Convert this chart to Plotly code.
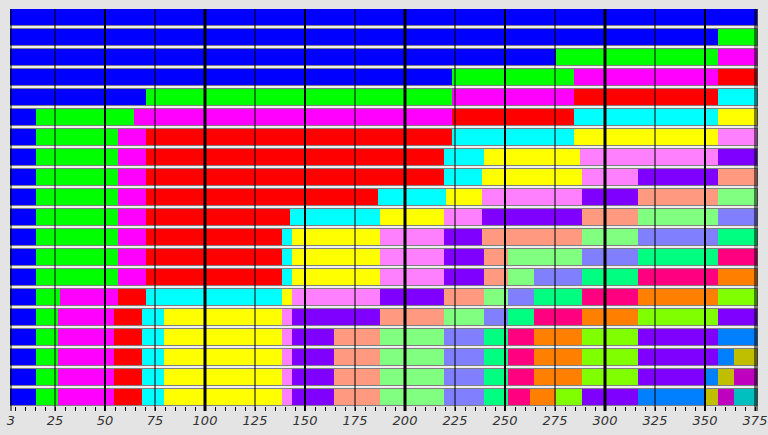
import plotly.graph_objects as go

# ---- data -------------------------------------------------------------
X_MIN, X_MAX = 3, 376

# last value of each class, one list per number of classes (row 1 = 1 class ... row 20 = 20 classes)
k01 = [376]
k02 = [356, 376]
k03 = [275, 356, 376]
k04 = [223, 284, 356, 376]
k05 = [70, 223, 284, 356, 376]
k06 = [15, 64, 223, 284, 356, 376]
k07 = [15, 56, 70, 223, 284, 356, 376]
k08 = [15, 56, 70, 219, 239, 287, 356, 376]
k09 = [15, 56, 70, 219, 238, 288, 316, 356, 376]
k10 = [15, 56, 70, 186, 220, 238, 288, 316, 356, 376]
k11 = [15, 56, 70, 142, 187, 219, 238, 288, 316, 356, 376]
k12 = [15, 56, 70, 138, 143, 187, 219, 238, 288, 316, 356, 376]
k13 = [15, 56, 70, 138, 143, 187, 219, 239, 251, 288, 316, 356, 376]
k14 = [15, 56, 70, 138, 143, 187, 219, 239, 251, 264, 288, 316, 356, 376]
k15 = [15, 27, 56, 70, 138, 143, 187, 219, 239, 251, 264, 288, 316, 356, 376]
k16 = [15, 26, 54, 68, 79, 138, 143, 187, 219, 239, 251, 264, 288, 316, 356, 376]
k17 = [15, 26, 54, 68, 79, 138, 143, 164, 187, 219, 239, 251, 264, 288, 316, 356, 376]
k18 = [15, 26, 54, 68, 79, 138, 143, 164, 187, 219, 239, 251, 264, 288, 316, 356, 364, 376]
k19 = [15, 26, 54, 68, 79, 138, 143, 164, 187, 219, 239, 251, 264, 288, 316, 349, 356, 364, 376]
k20 = [15, 26, 54, 68, 79, 138, 143, 164, 187, 219, 239, 251, 262, 275, 288, 316, 349, 356, 364, 376]
rows = [k01, k02, k03, k04, k05, k06, k07, k08, k09, k10,
        k11, k12, k13, k14, k15, k16, k17, k18, k19, k20]

class_colors = ["#0000ff", "#00ff00", "#ff00ff", "#ff0000", "#00ffff",
                "#ffff00", "#ff80ff", "#8000ff", "#ff9980", "#80ff80",
                "#8080ff", "#00ff80", "#ff0080", "#ff8000", "#80ff00",
                "#8000ff", "#0080ff", "#bfbf00", "#bf00bf", "#00bfbf"]

tick_vals = [3, 25, 50, 75, 100, 125, 150, 175, 200, 225, 250,
             275, 300, 325, 350, 375, 376]
tick_text = [str(v) for v in tick_vals]

# ---- figure -----------------------------------------------------------
fig = go.Figure()
n_classes = max(len(r) for r in rows)
for k in range(n_classes):
    ys, xs, bases = [], [], []
    for r, br in enumerate(rows, start=1):
        if len(br) > k:
            start = X_MIN if k == 0 else br[k - 1] + 1
            ys.append(r)
            bases.append(start - 0.5)
            xs.append(br[k] - start + 1)
    fig.add_trace(go.Bar(orientation="h", y=ys, x=xs, base=bases, width=0.85,
                         marker=dict(color=class_colors[k], line=dict(width=0)),
                         showlegend=False, hoverinfo="skip"))

# outline of each row
row_ids = list(range(1, len(rows) + 1))
fig.add_trace(go.Bar(orientation="h", y=row_ids,
                     x=[X_MAX - X_MIN + 1] * len(rows),
                     base=[X_MIN - 0.5] * len(rows), width=0.85,
                     marker=dict(color="rgba(0,0,0,0)",
                                 line=dict(color="#808080", width=1)),
                     showlegend=False, hoverinfo="skip"))

# vertical reference lines at the labelled ticks
for v in tick_vals:
    w = 3 if v % 100 == 0 else (2 if v % 50 == 0 else 1)
    fig.add_shape(type="line", xref="x", yref="paper", x0=v, x1=v,
                  y0=-0.0126, y1=1, line=dict(color="black", width=w),
                  layer="above")

fig.update_layout(
    width=768, height=435,
    margin=dict(l=10, r=10, t=9, b=29, autoexpand=False),
    paper_bgcolor="#e4e4e4", plot_bgcolor="#efefef",
    barmode="overlay", bargap=0,
    showlegend=False,
)
fig.update_xaxes(
    automargin=False,
    range=[X_MIN - 0.5, X_MAX + 0.5],
    tickmode="array", tickvals=tick_vals, ticktext=tick_text,
    tickangle=0, ticks="outside", ticklen=2, tickcolor="rgba(0,0,0,0)",
    tickfont=dict(family="DejaVu Sans", size=13, color="#333333", style="italic"),
    showgrid=False, zeroline=False, showline=False,
    minor=dict(ticks="outside", ticklen=4, tickwidth=1, tickcolor="black",
               tick0=0, dtick=5, showgrid=False),
)
fig.update_yaxes(
    automargin=False,
    range=[len(rows) + 0.425, 1 - 0.425],
    showticklabels=False, showgrid=False, zeroline=False, showline=False,
    ticks="",
)

fig.write_html(
    "out.html",
    config={"displayModeBar": False},
    post_script="document.body.style.margin='0';"
                "document.body.style.background='#e4e4e4';"
                "document.body.style.overflow='hidden';",
)
